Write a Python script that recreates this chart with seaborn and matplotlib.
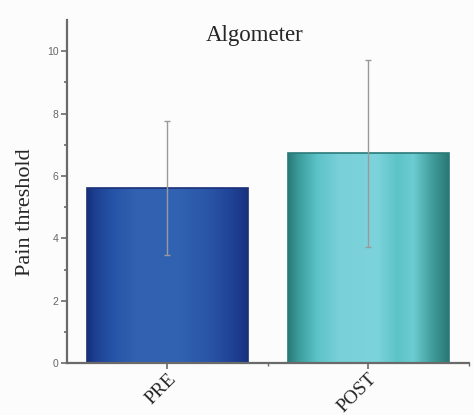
import numpy as np
import pandas as pd
import matplotlib
matplotlib.use("Agg")
import matplotlib.pyplot as plt
from matplotlib.colors import LinearSegmentedColormap
import seaborn as sns

# ---- data ----
groups = ["PRE", "POST"]
means = [5.6, 6.73]
sds = [2.15, 3.0]
title_text = "Algometer"
ylabel_text = "Pain threshold"
yticks_major = [0, 2, 4, 6, 8, 10]

sns.set_style("ticks")
plt.rcParams["font.family"] = ["Liberation Serif", "DejaVu Serif"]

df = pd.DataFrame({"group": groups, "mean": means})

fig = plt.figure(figsize=(4.74, 4.15), dpi=100, facecolor="#fcfcfc")
ax = fig.add_axes([0.141, 0.125, 0.848, 0.827])
ax.set_facecolor("#fcfcfc")

sns.barplot(data=df, x="group", y="mean", ax=ax, width=0.8,
            palette=["#2a52a3", "#5cc6cc"], hue="group", legend=False,
            edgecolor="none", linewidth=0, saturation=1)

# cylinder-like shading
cmaps = [
    LinearSegmentedColormap.from_list("pre", [
        (0.0, "#16307a"), (0.05, "#1d3f91"), (0.15, "#2552a6"), (0.3, "#3161b0"),
        (0.55, "#3263b2"), (0.75, "#2a56a8"), (0.9, "#1f4296"), (1.0, "#17327d")]),
    LinearSegmentedColormap.from_list("post", [
        (0.0, "#2a7a78"), (0.06, "#3a9a98"), (0.18, "#5cc3c8"), (0.32, "#79d0d9"),
        (0.55, "#7dd3dc"), (0.68, "#5cc4c6"), (0.78, "#6cccd2"), (0.9, "#3f9c9a"),
        (1.0, "#2a7876")]),
]
grad = np.linspace(0, 1, 256).reshape(1, -1)
edge_cols = ["#1a2f78", "#2b7a78"]
for i, p in enumerate(ax.patches[:len(groups)]):
    x0, w, h = p.get_x(), p.get_width(), p.get_height()
    im = ax.imshow(grad, cmap=cmaps[i], aspect="auto",
                   extent=[x0, x0 + w, 0, h], zorder=2, interpolation="bicubic")
    im.set_clip_path(p)
    p.set_edgecolor(edge_cols[i])
    p.set_linewidth(1.2)
    p.set_zorder(3)
    p.set_facecolor("none")

ax.errorbar(np.arange(len(groups)), means, yerr=sds, fmt="none",
            ecolor="#9a9a9a", elinewidth=1.0, capsize=2.5, capthick=1.0, zorder=4)

ax.set_xlim(-0.5, 1.5)
ax.set_ylim(0, 11)
ax.set_yticks(yticks_major)
ax.set_yticks([1, 3, 5, 7, 9], minor=True)
ax.set_xticks([0.5, 1.5], minor=True)

spine_col = "#6a6a6a"
for s in ["top", "right"]:
    ax.spines[s].set_visible(False)
for s in ["left", "bottom"]:
    ax.spines[s].set_color(spine_col)
    ax.spines[s].set_linewidth(1.6)
    ax.spines[s].set_zorder(5)

ax.tick_params(axis="y", which="major", length=4, width=1.2, color=spine_col,
               labelcolor="#666666", labelsize=7.5, pad=2)
ax.tick_params(axis="y", which="minor", length=2.5, width=1.2, color=spine_col)
ax.tick_params(axis="x", which="major", length=4, width=1.2, color=spine_col,
               labelsize=14, pad=1)
ax.tick_params(axis="x", which="minor", length=2, width=1.0, color=spine_col)
for lab in ax.get_yticklabels():
    lab.set_fontfamily(["Liberation Sans", "DejaVu Sans"])
for lab in ax.get_xticklabels():
    lab.set_rotation(45)
    lab.set_ha("right")
    lab.set_va("top")
    lab.set_rotation_mode("anchor")

ax.set_xlabel("")
ax.set_ylabel(ylabel_text, fontsize=16)
ax.yaxis.set_label_coords(-0.08, 0.44)
ax.text(0.468, 0.985, title_text, transform=ax.transAxes, ha="center", va="top",
        fontsize=16.5)

fig.savefig("out.png", dpi=100, facecolor=fig.get_facecolor())
